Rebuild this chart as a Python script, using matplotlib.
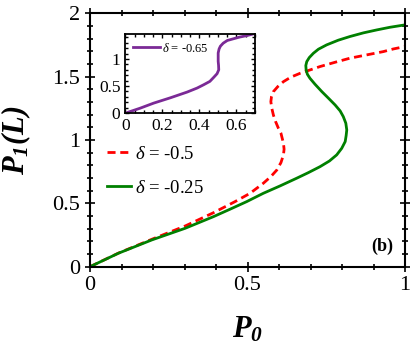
import matplotlib
matplotlib.use("Agg")
import matplotlib.pyplot as plt
from matplotlib.ticker import MultipleLocator

plt.rcParams['font.family'] = ['Liberation Serif', 'DejaVu Serif']
plt.rcParams['mathtext.fontset'] = 'custom'
plt.rcParams['mathtext.rm'] = 'Liberation Serif'
plt.rcParams['mathtext.it'] = 'Liberation Serif:italic'
plt.rcParams['mathtext.bf'] = 'Liberation Serif:italic:bold'

# delta = -0.25 (green, solid) (P1 up, P0 across)
p1_green = [0, 0.106, 0.211, 0.303, 0.395, 0.453, 0.513, 0.579, 0.637, 0.698,
            0.742, 0.789, 0.834, 0.882, 0.934, 0.987, 1.034, 1.079, 1.132,
            1.184, 1.229, 1.276, 1.329, 1.381, 1.440, 1.487, 1.518, 1.553,
            1.587, 1.618, 1.650, 1.684, 1.716, 1.750, 1.787, 1.816, 1.845,
            1.868, 1.889, 1.908]
p0_green = [0, 0.090, 0.196, 0.302, 0.392, 0.444, 0.497, 0.550, 0.603, 0.656,
            0.693, 0.730, 0.760, 0.783, 0.799, 0.810, 0.813, 0.815, 0.812,
            0.804, 0.794, 0.778, 0.757, 0.736, 0.714, 0.698, 0.690, 0.686,
            0.685, 0.688, 0.696, 0.709, 0.725, 0.751, 0.788, 0.825, 0.868,
            0.910, 0.952, 1.0]

# delta = -0.5 (red, dashed)
p1_red = [0, 0.107, 0.216, 0.321, 0.426, 0.513, 0.579, 0.658, 0.711, 0.763,
          0.821, 0.882, 0.927, 0.974, 1.053, 1.092, 1.145, 1.197, 1.250,
          1.302, 1.342, 1.381, 1.421, 1.460, 1.495, 1.526, 1.552, 1.579,
          1.613, 1.645, 1.671, 1.697, 1.718, 1.737]
p0_red = [0, 0.090, 0.196, 0.302, 0.392, 0.460, 0.508, 0.550, 0.574, 0.593,
          0.606, 0.614, 0.616, 0.614, 0.606, 0.598, 0.589, 0.582, 0.577,
          0.574, 0.576, 0.582, 0.596, 0.614, 0.637, 0.667, 0.698, 0.730,
          0.778, 0.825, 0.878, 0.931, 0.963, 1.0]

# inset: delta = -0.65 (purple)
p1_purple = [0, 0.093, 0.185, 0.284, 0.389, 0.463, 0.525, 0.586, 0.661, 0.728,
             0.80, 0.883, 0.957, 1.11, 1.185, 1.235, 1.290, 1.34, 1.40, 1.432,
             1.468]
p0_purple = [0, 0.081, 0.153, 0.244, 0.334, 0.388, 0.424, 0.457, 0.478, 0.496,
             0.505, 0.504, 0.502, 0.502, 0.507, 0.514, 0.529, 0.551, 0.614,
             0.659, 0.70]

fmt = plt.FuncFormatter(lambda v, p: f'{v:g}')

fig = plt.figure(figsize=(4.15, 3.57), dpi=100)
ax = fig.add_axes([0.217, 0.253, 0.759, 0.710])

ax.plot(p0_red, p1_red, color='red', ls=(0, (2.9, 1.7)), lw=2, label=r'$\delta$ = -0.5')
ax.plot(p0_green, p1_green, color='#008000', lw=2, label=r'$\delta$ = -0.25')

ax.set_xlim(0, 1)
ax.set_ylim(0, 2)
ax.xaxis.set_major_locator(MultipleLocator(0.5))
ax.xaxis.set_minor_locator(MultipleLocator(0.1))
ax.yaxis.set_major_locator(MultipleLocator(0.5))
ax.yaxis.set_minor_locator(MultipleLocator(0.1))
ax.tick_params(which='both', direction='inout', top=True, right=True,
               labelsize=16, width=1.2)
ax.tick_params(which='major', length=7)
ax.tick_params(which='minor', length=5)
ax.xaxis.set_major_formatter(fmt)
ax.yaxis.set_major_formatter(fmt)
for s in ax.spines.values():
    s.set_linewidth(1.5)

ax.set_xlabel(r'$\mathbf{P_0}$', fontsize=22, labelpad=14)
ax.set_ylabel(r'$\mathbf{P_1(L)}$', fontsize=22, labelpad=14)

ax.legend(loc='upper left', bbox_to_anchor=(0.054, 0.478), frameon=False,
          fontsize=13.5, handlelength=1.3, handletextpad=0.2, labelspacing=0.9,
          borderpad=0, borderaxespad=0)

ax.text(0.962, 0.079, '(b)', transform=ax.transAxes, ha='right', va='center',
        fontsize=13, fontweight='bold')

# inset
ins = fig.add_axes([0.302, 0.683, 0.312, 0.223])
ins.plot(p0_purple, p1_purple, color='#7b2a96', lw=2, label=r'$\delta$ = -0.65')
ins.set_xlim(0, 0.7)
ins.set_ylim(0, 1.468)
ins.xaxis.set_major_locator(MultipleLocator(0.2))
ins.xaxis.set_minor_locator(MultipleLocator(0.05))
ins.yaxis.set_major_locator(MultipleLocator(0.5))
ins.yaxis.set_minor_locator(MultipleLocator(0.1))
ins.tick_params(which='both', direction='in', top=True, right=True,
                labelsize=12.5, width=1)
ins.tick_params(which='major', length=3)
ins.tick_params(which='minor', length=2)
ins.xaxis.set_major_formatter(fmt)
ins.yaxis.set_major_formatter(fmt)
for s in ins.spines.values():
    s.set_linewidth(1.3)
ins.legend(loc='upper left', bbox_to_anchor=(0.06, 0.9), frameon=False,
           fontsize=9, handlelength=2.15, handletextpad=0.15,
           borderpad=0, borderaxespad=0)

fig.savefig('out.png', dpi=100)
